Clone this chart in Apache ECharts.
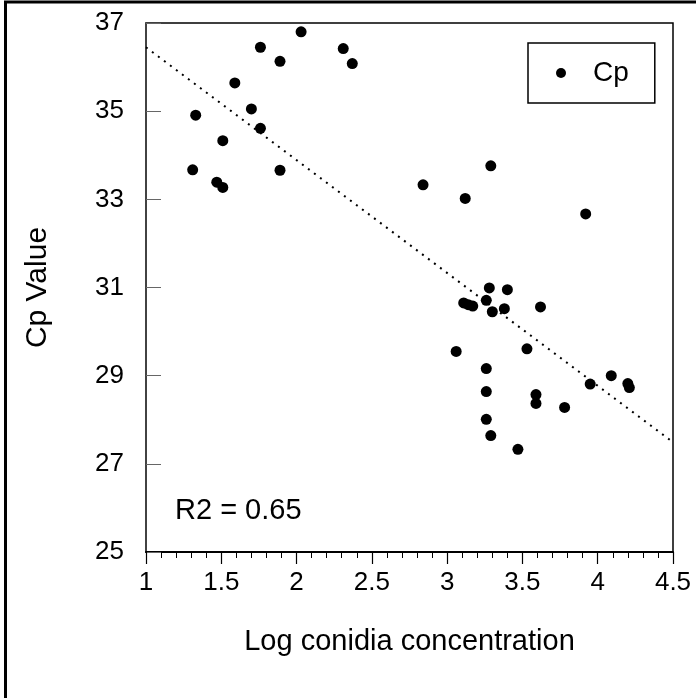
<!DOCTYPE html>
<html>
<head>
<meta charset="utf-8">
<script src="https://cdn.jsdelivr.net/npm/echarts@6/dist/echarts.min.js"></script>
<style>
  html, body { margin: 0; padding: 0; background: #fff; }
  #main { width: 696px; height: 698px; }
</style>
</head>
<body>
<div id="main"></div>
<script>
var dom = document.getElementById('main');
var chart = echarts.init(dom, null, { renderer: 'canvas' });

// log conidia concentration
var logConc = [
  2.03, 1.76, 2.31, 1.89, 2.37, 1.59, 1.70, 1.33, 1.76, 1.51,
  1.31, 1.89, 1.47, 1.51, 3.29, 2.84, 3.12, 3.92, 3.28, 3.40,
  3.11, 3.14, 3.17, 3.26, 3.30, 3.38, 3.62, 3.06, 3.53, 3.26,
  3.26, 3.59, 3.59, 3.78, 3.95, 4.09, 4.20, 4.21, 3.26, 3.29,
  3.47
];
// Cp value
var cpValue = [
  36.80, 36.45, 36.42, 36.13, 36.08, 35.64, 35.05, 34.91, 34.61, 34.33,
  33.67, 33.66, 33.39, 33.27, 33.76, 33.33, 33.02, 32.67, 30.99, 30.95,
  30.65, 30.61, 30.58, 30.71, 30.45, 30.52, 30.56, 29.55, 29.61, 29.16,
  28.64, 28.57, 28.37, 28.28, 28.81, 29.00, 28.82, 28.73, 28.01, 27.64,
  27.33
];
// regression line ends
var trendX = [1, 4.5];
var trendY = [36.45, 27.49];

var xTicks = [1, 1.5, 2, 2.5, 3, 3.5, 4, 4.5];
var yTicks = [25, 27, 29, 31, 33, 35, 37];

var points = logConc.map(function (x, i) { return [x, cpValue[i]]; });
var trend = trendX.map(function (x, i) { return [x, trendY[i]]; });

var font = 'Liberation Sans, Arial, Helvetica, sans-serif';

var option = {
  animation: false,
  backgroundColor: '#fff',
  grid: {
    left: 146, top: 23, right: 23, bottom: 146,
    show: true,
    borderColor: '#000',
    borderWidth: 1.5
  },
  legend: {
    data: [{ name: 'Cp', icon: 'circle' }],
    left: 528, top: 43,
    orient: 'vertical',
    itemWidth: 54, itemHeight: 10,
    padding: [16, 26, 16, 28],
    borderColor: '#000',
    borderWidth: 1.5,
    selectedMode: false,
    itemStyle: { opacity: 1 },
    textStyle: { fontFamily: font, fontSize: 28, color: '#000' }
  },
  xAxis: {
    type: 'value',
    min: xTicks[0], max: xTicks[xTicks.length - 1], interval: 0.5,
    name: 'Log conidia concentration',
    nameLocation: 'middle', nameGap: 75,
    nameTextStyle: { fontFamily: font, fontSize: 29, color: '#000' },
    axisLine: { show: true, onZero: false, lineStyle: { color: '#000', width: 2 } },
    axisTick: { show: true, length: 12, lineStyle: { color: '#000', width: 1.2 } },
    minorTick: { show: true, splitNumber: 5, length: 6, lineStyle: { color: '#000', width: 1 } },
    axisLabel: { fontFamily: font, fontSize: 26, color: '#000', margin: 18 },
    splitLine: { show: false }
  },
  yAxis: {
    type: 'value',
    min: yTicks[0], max: yTicks[yTicks.length - 1], interval: 2,
    name: 'Cp Value',
    nameLocation: 'middle', nameGap: 93,
    nameTextStyle: { fontFamily: font, fontSize: 30, color: '#000' },
    axisLine: { show: true, onZero: false, lineStyle: { color: '#444', width: 1.5 } },
    axisTick: { show: true, inside: true, length: 15, lineStyle: { color: '#666', width: 1 } },
    axisLabel: { fontFamily: font, fontSize: 26, color: '#000', margin: 22 },
    splitLine: { show: false }
  },
  series: [
    {
      name: 'trend',
      type: 'line',
      data: trend,
      showSymbol: false,
      silent: true,
      lineStyle: { color: '#000', width: 2, type: [2, 5.5] },
      z: 1
    },
    {
      name: 'Cp',
      type: 'scatter',
      data: points,
      symbol: 'circle',
      symbolSize: 11,
      itemStyle: { color: '#000', opacity: 1 },
      z: 3
    }
  ],
  graphic: [
    {
      type: 'rect',
      shape: { x: 5.5, y: 2, width: 720, height: 720 },
      style: { fill: null, stroke: '#000', lineWidth: 3 },
      silent: true
    },
    {
      type: 'text',
      left: 175, top: 496,
      style: { text: 'R2 = 0.65', font: '29px ' + font, fill: '#000' }
    }
  ]
};

chart.setOption(option);
window.addEventListener('resize', chart.resize);
</script>
</body>
</html>
